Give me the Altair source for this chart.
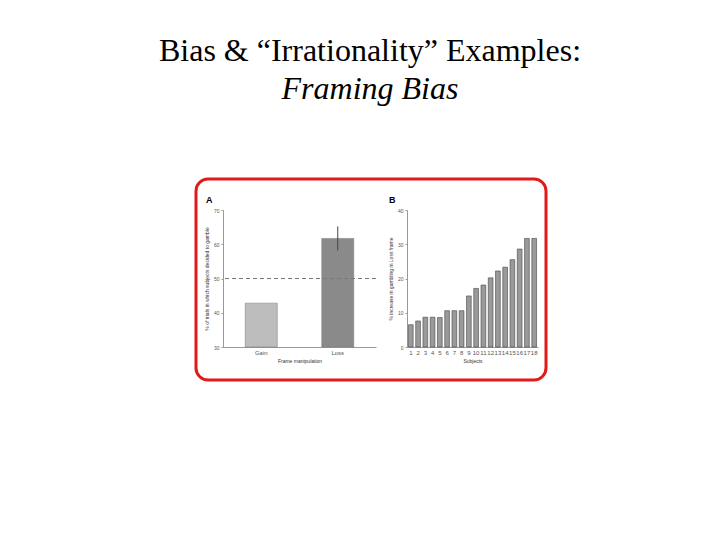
import altair as alt
import pandas as pd

# Panel A data
frames = ["Gain", "Loss"]
gamble_pct = [42.8, 61.7]
err_frames = ["Loss"]
err_lo = [58.2]
err_hi = [65.2]
ticksA = [30, 40, 50, 60, 70]

# Panel B data
subjects = [str(i) for i in range(1, 19)]
increase = [6.5, 7.6, 8.7, 8.7, 8.6, 10.6, 10.6, 10.6, 14.9, 17.1, 18.1, 20.2,
            22.2, 23.3, 25.5, 28.6, 31.7, 31.7]
ticksB = [0, 10, 20, 30, 40]

dfA = pd.DataFrame({"frame": frames, "pct": gamble_pct})
dfErr = pd.DataFrame({"frame": err_frames, "lo": err_lo, "hi": err_hi})
dfB = pd.DataFrame({"subject": subjects, "inc": increase})
dfOne = pd.DataFrame({"k": [0]})

FONT = "Liberation Sans"
WA, HA = 153, 137
WB, HB = 131, 137

xA = alt.X("frame:N", sort=frames,
           scale=alt.Scale(paddingInner=0.5, paddingOuter=0.25),
           axis=alt.Axis(title="Frame manipulation", labelAngle=0, ticks=False,
                         labelFontSize=6, titleFontSize=5, titlePadding=3))
yA = alt.Y("pct:Q", scale=alt.Scale(domain=[30, 70], zero=False, nice=False),
           axis=alt.Axis(title="% of trials in which subjects decided to gamble",
                         values=ticksA, labelOverlap=False, tickCount=5, titlePadding=4))

barsA = alt.Chart(dfA).mark_bar(size=32, stroke="#777", strokeWidth=0.5).encode(
    x=xA, y=yA, y2=alt.datum(30),
    color=alt.Color("frame:N", scale=alt.Scale(domain=frames, range=["#bdbdbd", "#8a8a8a"]), legend=None),
)
errA = alt.Chart(dfErr).mark_rule(color="#444", strokeWidth=1).encode(
    x=alt.X("frame:N", sort=frames), y="lo:Q", y2="hi:Q")
dashA = alt.Chart(dfOne).mark_rule(color="#777", strokeDash=[4, 3], strokeWidth=1).encode(
    y=alt.datum(50))
frame = alt.Chart(dfOne).mark_rect(fillOpacity=0, stroke="#e11b1b", strokeWidth=3,
                                    cornerRadius=12).encode(
    x=alt.value(-27), x2=alt.value(323), y=alt.value(-31), y2=alt.value(170))
labelA = alt.Chart(dfOne).mark_text(text="A", font=FONT, fontSize=9, fontWeight="bold",
                                    align="left", baseline="bottom").encode(
    x=alt.value(-17), y=alt.value(-5))

panelA = alt.layer(barsA, errA, dashA, frame, labelA).properties(width=WA, height=HA)

barsB = alt.Chart(dfB).mark_bar(color="#9a9a9a", stroke="#444", strokeWidth=0.6).encode(
    x=alt.X("subject:O", sort=subjects,
            scale=alt.Scale(paddingInner=0.35, paddingOuter=0.2),
            axis=alt.Axis(title="Subjects", labelAngle=0, ticks=False, labelFontSize=6,
                          titleFontSize=5, titlePadding=3)),
    y=alt.Y("inc:Q", scale=alt.Scale(domain=[0, 40]),
            axis=alt.Axis(title="% increase in gambling in Loss frame",
                          values=ticksB, labelOverlap=False, titlePadding=4)),
)
labelB = alt.Chart(dfOne).mark_text(text="B", font=FONT, fontSize=9, fontWeight="bold",
                                    align="left", baseline="bottom").encode(
    x=alt.value(-18), y=alt.value(-5))
panelB = alt.layer(barsB, labelB).properties(width=WB, height=HB)

chart = alt.hconcat(panelA, panelB, spacing=31, bounds="flush").properties(
    title=alt.TitleParams(
        "Bias & \u201cIrrationality\u201d Examples:",
        subtitle="Framing Bias",
        font="Liberation Serif", fontSize=32, fontWeight="normal", color="black",
        subtitleFont="Liberation Serif", subtitleFontSize=32, subtitleFontStyle="italic",
        subtitleColor="black", subtitlePadding=6, anchor="middle", dx=-1, offset=72),
    padding={"left": 150, "top": 26, "right": 10, "bottom": 10},
).configure_view(stroke=None).configure_axis(
    labelFont=FONT, titleFont=FONT, labelFontSize=5, titleFontSize=5,
    labelColor="#555", titleColor="#333", domainColor="#999", tickColor="#999",
    tickSize=2, labelPadding=2, grid=False, titleFontWeight="normal",
)

chart.save("out.html", embed_options={"renderer": "svg", "actions": False})
